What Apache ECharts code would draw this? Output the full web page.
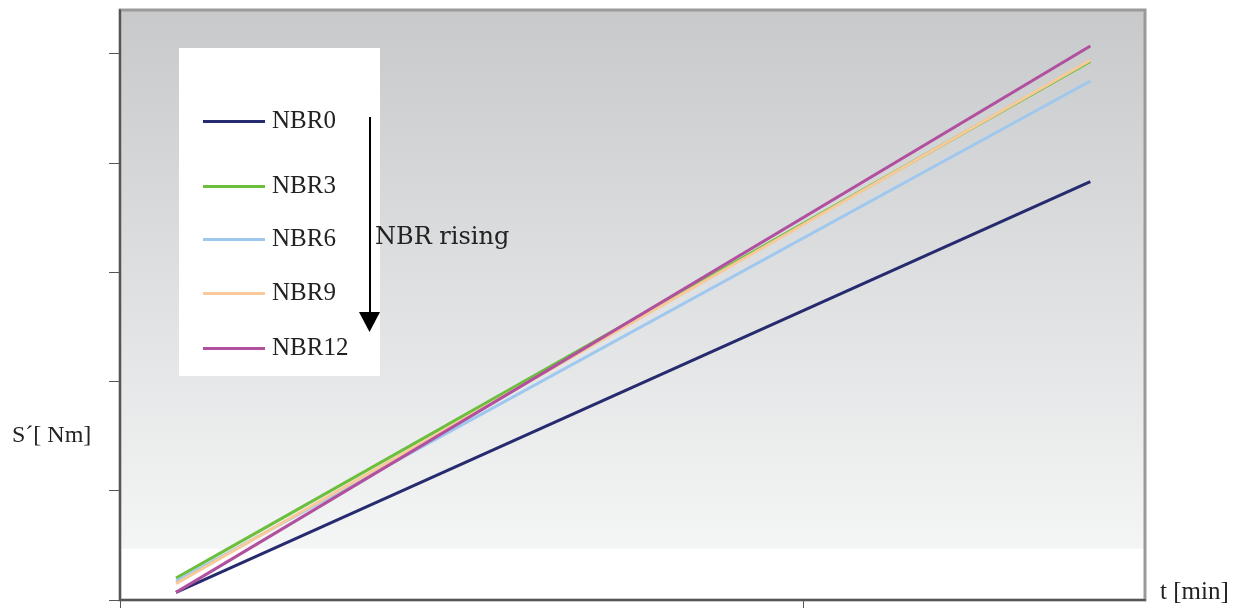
<!DOCTYPE html>
<html>
<head>
<meta charset="utf-8">
<script src="https://cdn.jsdelivr.net/npm/echarts@6/dist/echarts.min.js"></script>
<style>html,body{margin:0;padding:0;background:#fff}#c{width:1239px;height:608px}</style>
</head>
<body>
<div id="c"></div>
<script>
const seriesNames = ['NBR0', 'NBR3', 'NBR6', 'NBR9', 'NBR12'];
const tValues = [0.082, 1.42];
const nbr0 = [0.07, 3.83];
const nbr3 = [0.20, 4.93];
const nbr6 = [0.17, 4.75];
const nbr9 = [0.15, 4.94];
const nbr12 = [0.07, 5.07];
const yTicks = [0, 1, 2, 3, 4, 5];
const xTicks = [0, 1];
const colors = ['#262a6e', '#6cbf3c', '#9fc8ee', '#f7c99b', '#b0509e'];
const legendTops = [104, 169, 222, 276, 331];
const xAxisName = 't [min]';
const yAxisName = 'S´[ Nm]';

const allValues = [nbr0, nbr3, nbr6, nbr9, nbr12];
const FONT = '"Liberation Serif", "DejaVu Serif", serif';
const FONT2 = '"DejaVu Serif", "Liberation Serif", serif';

const chart = echarts.init(document.getElementById('c'), null, {renderer: 'canvas'});
const series = seriesNames.map((n, i) => ({
  name: n,
  type: 'line',
  symbol: 'none',
  lineStyle: {color: colors[i], width: 3},
  itemStyle: {color: colors[i]},
  data: tValues.map((t, j) => [t, allValues[i][j]]),
  z: 3 + i
}));

const legends = seriesNames.map((n, i) => ({
  data: [n], orient: 'vertical', left: 198, top: legendTops[i],
  icon: 'rect', itemWidth: 62, itemHeight: 3, itemGap: 5,
  textStyle: {fontFamily: FONT, fontSize: 25, color: '#222', padding: [0, 0, 0, 2]}
}));

chart.setOption({
  animation: false,
  grid: {
    left: 120, right: 94, top: 10, bottom: 8,
    outerBoundsMode: 'none',
    containLabel: false,
    show: true,
    borderColor: '#9a9a9a', borderWidth: 3,
    backgroundColor: new echarts.graphic.LinearGradient(0, 0, 0, 1, [
      {offset: 0, color: '#c8c9cb'},
      {offset: 0.91, color: '#f4f5f5'},
      {offset: 0.912, color: '#ffffff'},
      {offset: 1, color: '#ffffff'}
    ])
  },
  xAxis: {
    type: 'value', min: 0, max: 1.5, interval: 1,
    axisLine: {show: true, lineStyle: {color: '#555', width: 2}},
    axisTick: {show: true, customValues: xTicks, length: 9, lineStyle: {color: '#555', width: 1}},
    axisLabel: {show: false},
    splitLine: {show: false}
  },
  yAxis: {
    type: 'value', min: 0, max: 5.4, interval: 1,
    axisLine: {show: true, lineStyle: {color: '#555', width: 2}},
    axisTick: {show: true, customValues: yTicks, length: 11, lineStyle: {color: '#555', width: 1}},
    axisLabel: {show: false},
    splitLine: {show: false}
  },
  legend: legends,
  graphic: [
    {type: 'rect', shape: {x: 179, y: 48, width: 201, height: 328}, style: {fill: '#ffffff'}, z: 1},
    {type: 'line', shape: {x1: 370, y1: 117, x2: 370, y2: 314}, style: {stroke: '#000', lineWidth: 2}, z: 10},
    {type: 'polygon', shape: {points: [[359, 312], [380, 312], [369.5, 332]]}, style: {fill: '#000'}, z: 10},
    {type: 'text', left: 375, top: 226, style: {text: 'NBR rising', font: '24px ' + FONT2, fill: '#222'}, z: 10},
    {type: 'text', left: 12, top: 424, style: {text: yAxisName, font: '24px ' + FONT, fill: '#222'}, z: 10},
    {type: 'text', left: 1160, top: 580, style: {text: xAxisName, font: '25px ' + FONT, fill: '#222'}, z: 10}
  ],
  series: series
});
</script>
</body>
</html>
